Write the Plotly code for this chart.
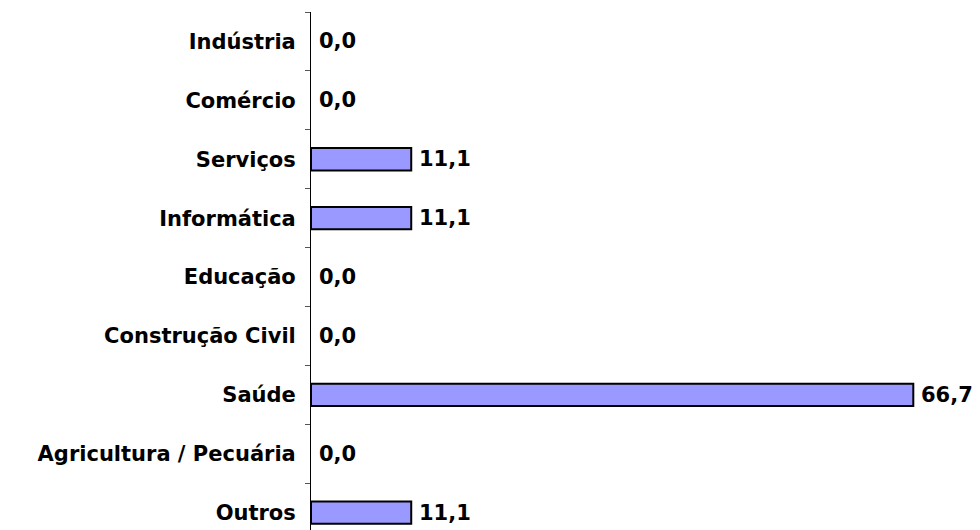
import plotly.graph_objects as go

categories = ["Indústria", "Comércio", "Serviços", "Informática", "Educação",
              "Construção Civil", "Saúde", "Agricultura / Pecuária", "Outros"]
values = [0.0, 0.0, 11.1, 11.1, 0.0, 0.0, 66.7, 0.0, 11.1]

FONT = "DejaVu Sans, Verdana, sans-serif"
FS = 21

fig = go.Figure()
fig.add_trace(go.Bar(
    y=categories, x=values, orientation="h",
    marker=dict(color="#9999FF",
                line=dict(color="black", width=[2 if v > 0 else 0 for v in values])),
    width=0.38,
))

for c, v in zip(categories, values):
    fig.add_annotation(
        x=v, y=c, text=f"{v:.1f}".replace(".", ","),
        xanchor="left", yanchor="middle", xshift=6, showarrow=False,
        font=dict(family=FONT, size=FS, color="black", weight="bold"),
    )

fig.update_layout(
    width=980, height=530,
    margin=dict(l=303, r=38, t=4, b=0, autoexpand=False),
    paper_bgcolor="white", plot_bgcolor="white",
    showlegend=False,
    font=dict(family=FONT, size=FS, color="black"),
    xaxis=dict(range=[0, 639 / 9.03], visible=False, showgrid=False, zeroline=False),
    yaxis=dict(
        autorange=False, range=[8.43, -0.5], automargin=False,
        showline=True, linecolor="black", linewidth=1,
        ticks="outside", tickson="boundaries", ticklen=5, tickcolor="#555",
        ticklabelstandoff=10,
        tickfont=dict(family=FONT, size=FS, color="black", weight="bold"),
        showgrid=False, zeroline=False,
    ),
)

fig.write_html("out.html")
